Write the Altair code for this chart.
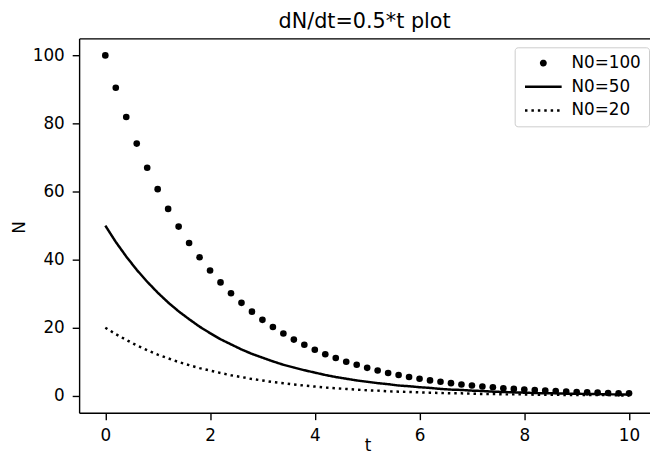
import altair as alt
import pandas as pd

# ---- data ----
t_vals = [0.0, 0.2, 0.4, 0.6, 0.8, 1.0, 1.2, 1.4, 1.6, 1.8,
          2.0, 2.2, 2.4, 2.6, 2.8, 3.0, 3.2, 3.4, 3.6, 3.8,
          4.0, 4.2, 4.4, 4.6, 4.8, 5.0, 5.2, 5.4, 5.6, 5.8,
          6.0, 6.2, 6.4, 6.6, 6.8, 7.0, 7.2, 7.4, 7.6, 7.8,
          8.0, 8.2, 8.4, 8.6, 8.8, 9.0, 9.2, 9.4, 9.6, 9.8, 10.0]

n100 = [100.0, 90.5, 81.9, 74.1, 67.0, 60.7, 54.9, 49.7, 44.9, 40.7,
        36.8, 33.3, 30.1, 27.3, 24.7, 22.3, 20.2, 18.3, 16.5, 15.0,
        13.5, 12.2, 11.1, 10.0, 9.1, 8.2, 7.4, 6.7, 6.1, 5.5,
        5.0, 4.5, 4.1, 3.7, 3.3, 3.0, 2.7, 2.5, 2.2, 2.0,
        1.8, 1.7, 1.5, 1.4, 1.2, 1.1, 1.0, 0.9, 0.8, 0.7, 0.7]

n50 = [50.0, 45.2, 40.9, 37.0, 33.5, 30.3, 27.4, 24.8, 22.5, 20.3,
       18.4, 16.6, 15.1, 13.6, 12.3, 11.2, 10.1, 9.1, 8.3, 7.5,
       6.8, 6.1, 5.5, 5.0, 4.5, 4.1, 3.7, 3.4, 3.0, 2.8,
       2.5, 2.3, 2.0, 1.8, 1.7, 1.5, 1.4, 1.2, 1.1, 1.0,
       0.9, 0.8, 0.7, 0.7, 0.6, 0.6, 0.5, 0.5, 0.4, 0.4, 0.3]

n20 = [20.0, 18.1, 16.4, 14.8, 13.4, 12.1, 11.0, 9.9, 9.0, 8.1,
       7.4, 6.7, 6.0, 5.5, 4.9, 4.5, 4.0, 3.7, 3.3, 3.0,
       2.7, 2.4, 2.2, 2.0, 1.8, 1.6, 1.5, 1.3, 1.2, 1.1,
       1.0, 0.9, 0.8, 0.7, 0.7, 0.6, 0.5, 0.5, 0.4, 0.4,
       0.4, 0.3, 0.3, 0.3, 0.2, 0.2, 0.2, 0.2, 0.2, 0.1, 0.1]

series_names = ["N0=100", "N0=50", "N0=20"]
x_ticks = [0, 2, 4, 6, 8, 10]
y_ticks = [0, 20, 40, 60, 80, 100]

rows = []
for name, vals in zip(series_names, [n100, n50, n20]):
    for t, v in zip(t_vals, vals):
        rows.append({"t": t, "N": v, "series": name})
df = pd.DataFrame(rows)

FONT = "DejaVu Sans"
LINE_PATH = "M-8.3,0L8.3,0"

legend = alt.Legend(
    title=None, orient="none", legendX=441, legendY=9,
    padding=7.5, rowPadding=6, labelLimit=300,
    labelFont=FONT, labelFontSize=17, labelColor="black",
    symbolSize=20, symbolStrokeWidth=2.5, symbolStrokeColor="black",
    symbolFillColor="black", symbolOffset=13, labelOffset=20,
    strokeColor="#cccccc", fillColor="white", cornerRadius=3,
)

color = alt.Color("series:N", scale=alt.Scale(domain=series_names, range=["black", "black", "black"]), legend=legend)
shape = alt.Shape("series:N", scale=alt.Scale(domain=series_names, range=["circle", LINE_PATH, LINE_PATH]), legend=legend)
dash = alt.StrokeDash("series:N", scale=alt.Scale(domain=series_names, range=[[1, 0], [1, 0], [2.5, 4]]), legend=legend)

xscale = alt.Scale(domain=[-0.5, 10.4], nice=False, zero=False)
yscale = alt.Scale(domain=[-5, 105], nice=False, zero=False)

axis_common = dict(grid=False, tickSize=7, tickWidth=1.4, tickColor="black",
                   domainColor="black", domainWidth=1.4,
                   labelFont=FONT, labelFontSize=17, labelColor="black", labelPadding=8,
                   titleFont=FONT, titleFontSize=17, titleFontWeight="normal", titleColor="black")

x_axis = alt.Axis(values=x_ticks, title="t", labelFlush=False, titleX=292, titleY=38,
                  titleBaseline="alphabetic", **axis_common)
top_axis = alt.Axis(orient="top", labels=False, ticks=False, title=None, grid=False,
                    domain=True, domainColor="black", domainWidth=1.4)
y_axis = alt.Axis(values=y_ticks, title="N", titleAngle=270, titleX=-55, titleY=191,
                  titleBaseline="alphabetic", titleAlign="center", **axis_common)

base = alt.Chart(df)

points = base.transform_filter(alt.datum.series == "N0=100").mark_point(
    filled=True, size=45, opacity=1
).encode(
    x=alt.X("t:Q", scale=xscale, axis=x_axis),
    y=alt.Y("N:Q", scale=yscale, axis=y_axis),
    color=color,
    shape=shape,
)

lines = base.transform_filter(alt.datum.series != "N0=100").mark_line(
    strokeWidth=2.5
).encode(
    x=alt.X("t:Q", scale=xscale, axis=top_axis),
    y=alt.Y("N:Q", scale=yscale, axis=y_axis),
    color=color,
    strokeDash=dash,
)

chart = alt.layer(points, lines).resolve_axis(x="independent").properties(
    width=578, height=379,
    padding={"left": 72, "top": 28, "right": 0, "bottom": 42},
    autosize=alt.AutoSizeParams(type="none"),
    title=alt.TitleParams("dN/dt=0.5*t plot", font=FONT, fontSize=21, fontWeight="normal",
                          color="black", anchor="middle", frame="group",
                          baseline="alphabetic", offset=-10),
).configure_view(strokeWidth=0).configure(font=FONT, background="white")

chart.save("out.html", embed_options={"renderer": "svg", "actions": False})
